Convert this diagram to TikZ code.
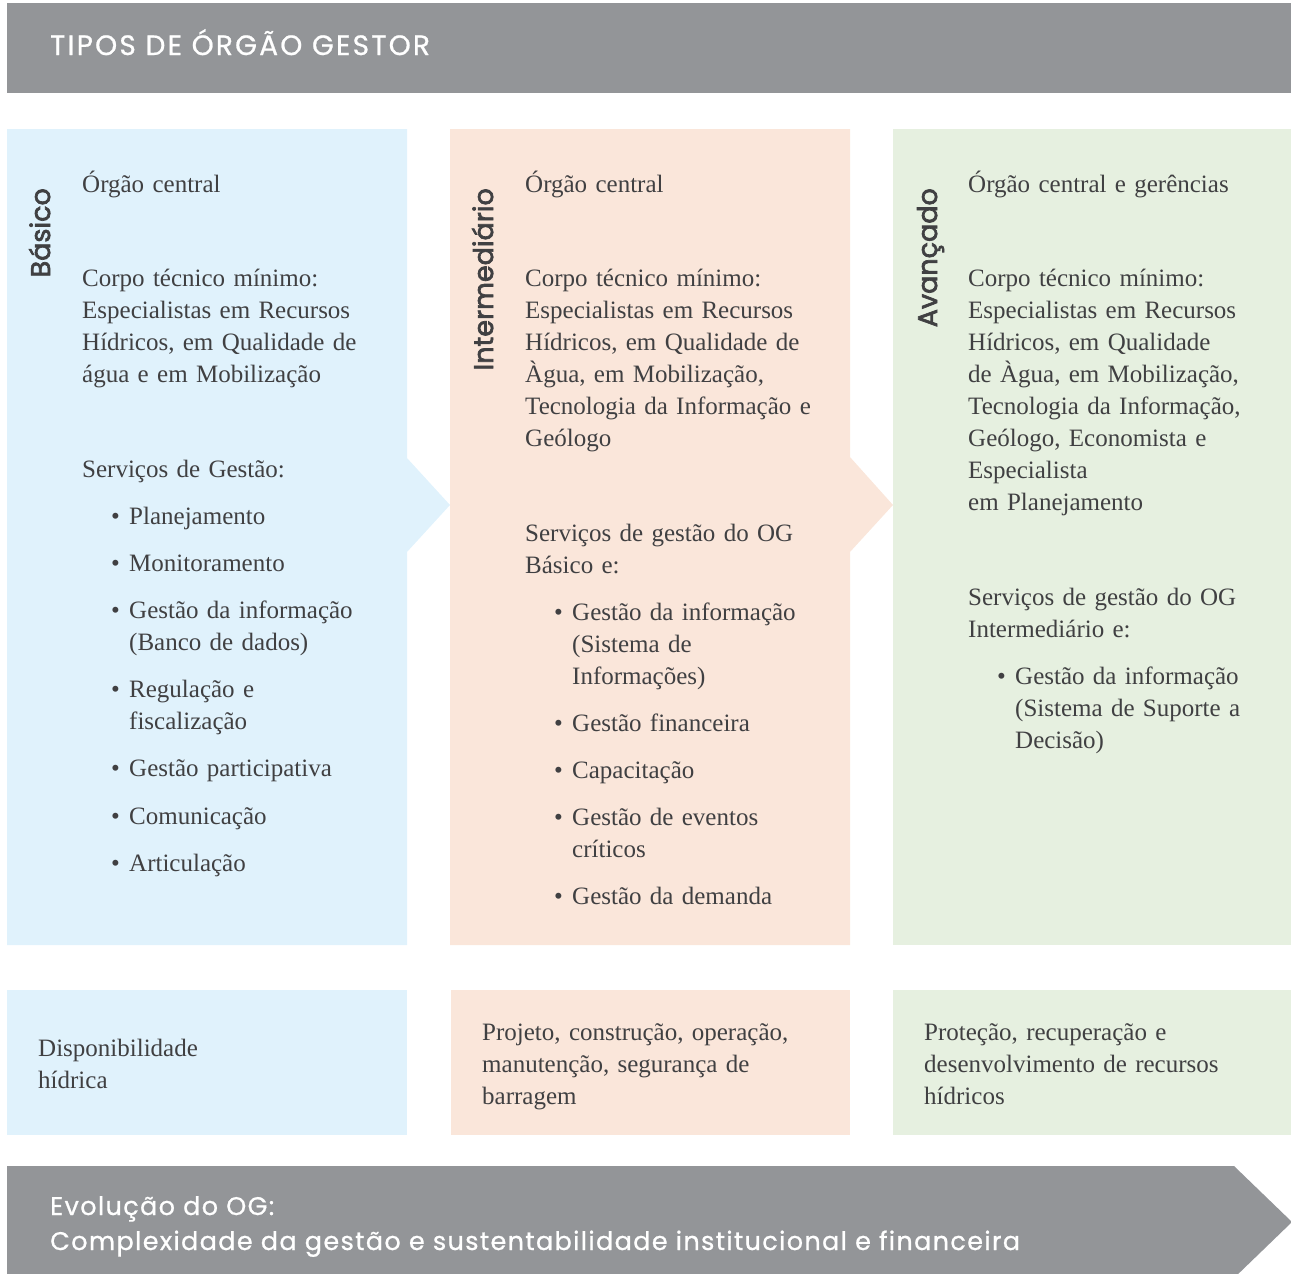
\documentclass[tikz,border=0pt]{standalone}
\usepackage{fontspec}
\setmainfont{Liberation Serif}
\newfontfamily\headfont{Poppins}[LetterSpace=5.3,FakeBold=0.8]
\newfontfamily\titlefont{Poppins}[LetterSpace=8,FakeBold=0.8]
\newfontfamily\levelfont{Poppins}[FakeBold=2.5]
\usetikzlibrary{positioning}

\definecolor{barGray}{RGB}{147,149,152}
\definecolor{basicBlue}{RGB}{224,242,252}
\definecolor{midPeach}{RGB}{250,230,218}
\definecolor{advGreen}{RGB}{230,240,224}
\definecolor{ink}{RGB}{64,64,66}

\tikzset{
  body/.style={anchor=base west, inner sep=0pt, align=left, text width=340pt,
    text=ink, font=\fontsize{25}{32}\selectfont},
  bul/.style={anchor=base west, inner sep=0pt, text=ink, font=\fontsize{25}{32}\selectfont},
  level/.style={anchor=base east, rotate=90, inner sep=0pt, text=ink,
    font=\levelfont\fontsize{27}{32}\selectfont},
  banner/.style={anchor=base west, inner sep=0pt, text=white,
    font=\headfont\fontsize{25.5}{34}\selectfont},
}

\begin{document}
\begin{tikzpicture}[x=1pt,y=-1pt]
\useasboundingbox (0,0) rectangle (1291,1274);

% bars and panels
\fill[barGray] (7,3) rectangle (1291,93);
\fill[basicBlue] (7,129) -- (407,129) -- (407,458) -- (450,505) -- (407,552)
  -- (407,945) -- (7,945) -- cycle;
\fill[midPeach] (450,129) -- (850,129) -- (850,457) -- (893,505) -- (850,552)
  -- (850,945) -- (450,945) -- cycle;
\fill[advGreen] (893,129) rectangle (1291,945);
\fill[basicBlue] (7,990) rectangle (407,1135);
\fill[midPeach] (451,990) rectangle (850,1135);
\fill[advGreen] (893,990) rectangle (1291,1135);
\fill[barGray] (7,1166) -- (1234,1166) -- (1292,1222) -- (1234,1278) -- (7,1278) -- cycle;

\node[banner, font=\titlefont\fontsize{28}{34}\selectfont] (title) at (50,55) {TIPOS DE ÓRGÃO GESTOR};

% Basico
\node[level] (basico) at (50,188) {Básico};
\node[body] (b-org) at (82,192) {Órgão central};
\node[body] (b-corpo) at (82,286.5) {Corpo técnico mínimo:\\Especialistas em Recursos\\Hídricos, em Qualidade de\\água e em Mobilização};
\node[body] (b-serv) at (82,477.5) {Serviços de Gestão:};
\foreach \y/\txt [count=\i] in {524.5/Planejamento, 571.5/Monitoramento,
    618.5/{Gestão da informação\\(Banco de dados)}, 697.5/{Regulação e\\fiscalização},
    776.5/Gestão participativa, 824.5/Comunicação, 871.5/Articulação}{
  \node[bul] (b-dot\i) at (111,\y) {\textbullet};
  \node[body] (b-item\i) at (129,\y) {\txt};
}

% Intermediario
\node[level] (inter) at (493,188) {Intermediário};
\node[body] (m-org) at (525,192) {Órgão central};
\node[body] (m-corpo) at (525,286.5) {Corpo técnico mínimo:\\Especialistas em Recursos\\Hídricos, em Qualidade de\\Àgua, em Mobilização,\\Tecnologia da Informação e\\Geólogo};
\node[body] (m-serv) at (525,541.5) {Serviços de gestão do OG\\Básico e:};
\foreach \y/\txt [count=\i] in {620.5/{Gestão da informação\\(Sistema de\\Informações)},
    731.5/Gestão financeira, 778.5/Capacitação,
    825.5/{Gestão de eventos\\críticos}, 904.5/Gestão da demanda}{
  \node[bul] (m-dot\i) at (554,\y) {\textbullet};
  \node[body] (m-item\i) at (572,\y) {\txt};
}

% Avancado
\node[level] (avanc) at (937,188) {Avançado};
\node[body] (a-org) at (968,192) {Órgão central e gerências};
\node[body] (a-corpo) at (968,286.5) {Corpo técnico mínimo:\\Especialistas em Recursos\\Hídricos, em Qualidade\\de Àgua, em Mobilização,\\Tecnologia da Informação,\\Geólogo, Economista e\\Especialista\\em Planejamento};
\node[body] (a-serv) at (968,605.5) {Serviços de gestão do OG\\Intermediário e:};
\node[bul] (a-dot1) at (997,684.5) {\textbullet};
\node[body] (a-item1) at (1015,684.5) {Gestão da informação\\(Sistema de Suporte a\\Decisão)};

% bottom boxes
\node[body] (b-foco) at (38,1056.5) {Disponibilidade\\hídrica};
\node[body] (m-foco) at (482,1040.5) {Projeto, construção, operação,\\manutenção, segurança de\\barragem};
\node[body] (a-foco) at (924,1040.5) {Proteção, recuperação e\\desenvolvimento de recursos\\hídricos};

\node[banner] (evol) at (50,1215) {Evolução do OG:};
\node[banner] (evol-sub) at (50,1250) {Complexidade da gestão e sustentabilidade institucional e financeira};
\end{tikzpicture}
\end{document}
